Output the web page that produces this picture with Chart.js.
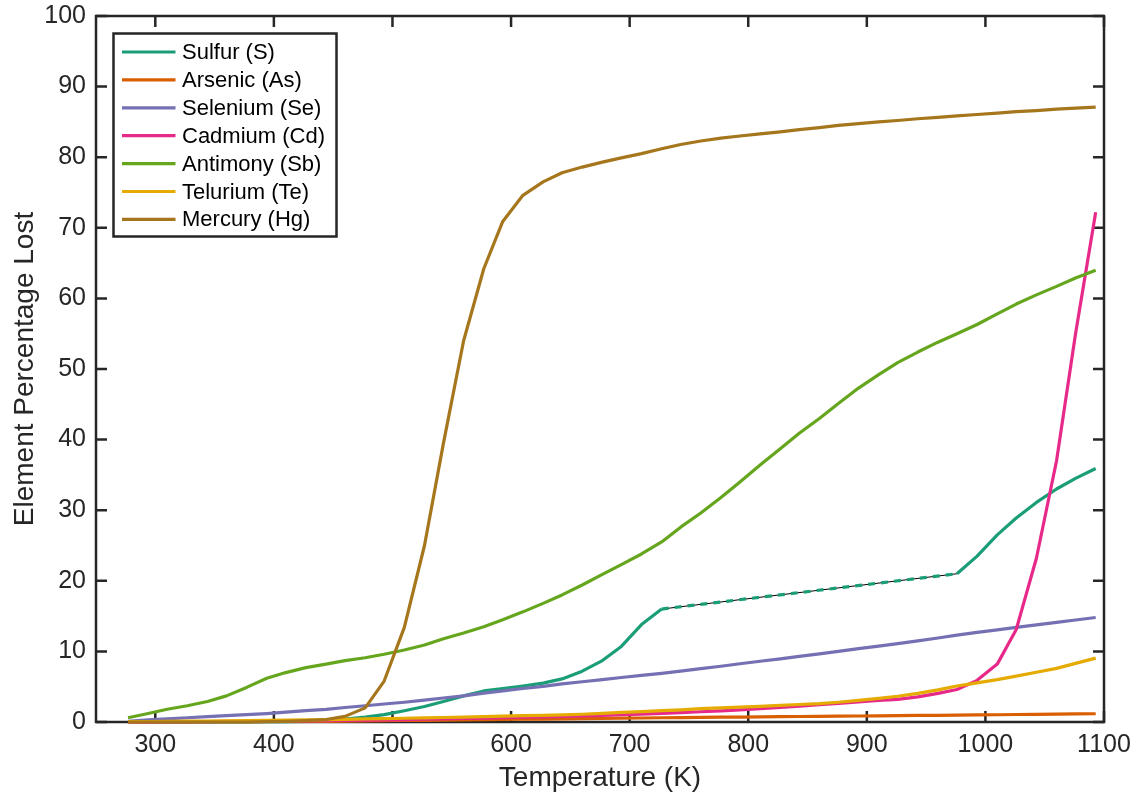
<!DOCTYPE html>
<html>
<head>
<meta charset="utf-8">
<script src="https://cdn.jsdelivr.net/npm/chart.js@4.4.1/dist/chart.umd.min.js"></script>
<style>
  body { margin: 0; background: #fff; }
  canvas { display: block; }
</style>
</head>
<body>
<canvas id="lossChart" width="1136" height="797"></canvas>
<script>
// temperature samples (K)
const temperature = [277, 294, 310, 327, 344, 360, 377, 394, 410, 427,
  444, 460, 477, 493, 510, 527, 543, 560, 577, 593,
  610, 627, 643, 660, 677, 693, 710, 727, 743, 760,
  777, 793, 810, 827, 843, 860, 876, 893, 910, 926,
  943, 960, 976, 993, 1010, 1026, 1043, 1060, 1076, 1093];

// element percentage lost
const sulfur = [0, 0, 0, 0, 0, 0, 0.02, 0.04, 0.06, 0.1,
  0.2, 0.4, 0.7, 1.05, 1.6, 2.2, 2.9, 3.7, 4.4, 4.75,
  5.1, 5.5, 6.1, 7.2, 8.7, 10.7, 13.8, 16.0, null, null,
  null, null, null, null, null, null, null, null, null, null,
  null, null, 21.0, 23.5, 26.5, 28.9, 31.1, 33.0, 34.5, 35.9];
const arsenic = [0, 0.01, 0.02, 0.03, 0.04, 0.05, 0.06, 0.07, 0.08, 0.09,
  0.1, 0.12, 0.15, 0.18, 0.21, 0.24, 0.27, 0.3, 0.33, 0.36,
  0.39, 0.42, 0.45, 0.48, 0.51, 0.54, 0.57, 0.6, 0.62, 0.65,
  0.68, 0.7, 0.73, 0.75, 0.78, 0.8, 0.83, 0.85, 0.88, 0.9,
  0.93, 0.95, 0.98, 1.0, 1.03, 1.06, 1.09, 1.11, 1.14, 1.17];
const selenium = [0.1, 0.3, 0.45, 0.6, 0.75, 0.9, 1.05, 1.2, 1.4, 1.6,
  1.8, 2.05, 2.3, 2.55, 2.8, 3.1, 3.4, 3.7, 4.1, 4.4,
  4.75, 5.05, 5.4, 5.7, 6.0, 6.3, 6.6, 6.9, 7.2, 7.55,
  7.9, 8.25, 8.6, 8.95, 9.3, 9.65, 10.0, 10.4, 10.75, 11.1,
  11.5, 11.9, 12.3, 12.7, 13.05, 13.4, 13.75, 14.1, 14.45, 14.8];
const cadmium = [0.02, 0.03, 0.04, 0.05, 0.06, 0.08, 0.1, 0.12, 0.14, 0.17,
  0.2, 0.23, 0.27, 0.31, 0.35, 0.4, 0.45, 0.5, 0.56, 0.62,
  0.68, 0.74, 0.8, 0.87, 0.95, 1.03, 1.12, 1.22, 1.33, 1.45,
  1.58, 1.72, 1.88, 2.05, 2.25, 2.45, 2.65, 2.85, 3.05, 3.2,
  3.55, 4.05, 4.6, 5.9, 8.2, 13.1, 23.2, 37.0, 55.0, 72.2];
const antimony = [0.6, 1.2, 1.8, 2.3, 2.9, 3.7, 4.9, 6.2, 7.0, 7.7,
  8.2, 8.7, 9.1, 9.6, 10.2, 10.9, 11.8, 12.6, 13.5, 14.5,
  15.6, 16.8, 18.0, 19.4, 20.9, 22.3, 23.8, 25.5, 27.6, 29.6,
  31.8, 34.0, 36.4, 38.7, 40.9, 43.0, 45.1, 47.3, 49.2, 50.9,
  52.4, 53.8, 55.0, 56.3, 57.8, 59.2, 60.5, 61.7, 62.9, 64.0];
const tellurium = [0.05, 0.07, 0.09, 0.11, 0.13, 0.16, 0.19, 0.22, 0.26, 0.3,
  0.34, 0.38, 0.43, 0.48, 0.53, 0.58, 0.64, 0.7, 0.76, 0.82,
  0.89, 0.95, 1.0, 1.1, 1.22, 1.35, 1.47, 1.6, 1.73, 1.9,
  2.0, 2.1, 2.2, 2.35, 2.48, 2.6, 2.8, 3.05, 3.35, 3.65,
  4.05, 4.55, 5.1, 5.55, 6.0, 6.5, 7.05, 7.6, 8.3, 9.05];
const mercury = [0, 0, 0, 0, 0, 0, 0, 0.05, 0.1, 0.2,
  0.35, 0.8, 2.0, 5.8, 13.4, 25.0, 39.5, 54.0, 64.2, 70.9,
  74.6, 76.5, 77.8, 78.6, 79.3, 79.9, 80.5, 81.2, 81.8, 82.3,
  82.7, 83.0, 83.3, 83.6, 83.9, 84.2, 84.5, 84.75, 85.0, 85.2,
  85.45, 85.65, 85.85, 86.05, 86.25, 86.45, 86.6, 86.8, 86.95, 87.1];

const seriesNames = ["Sulfur (S)", "Arsenic (As)", "Selenium (Se)", "Cadmium (Cd)",
  "Antimony (Sb)", "Telurium (Te)", "Mercury (Hg)"];
const seriesValues = [sulfur, arsenic, selenium, cadmium, antimony, tellurium, mercury];
const seriesColors = ["#1b9e77", "#d95f02", "#7570b3", "#e7298a", "#66a61e", "#e6ab02", "#a6761d"];

const xTicks = [300, 400, 500, 600, 700, 800, 900, 1000, 1100];
const yTicks = [0, 10, 20, 30, 40, 50, 60, 70, 80, 90, 100];

const axisColor = "#262626";
const fontFamily = "'Liberation Sans', Arial, Helvetica, sans-serif";
const lineWidth = 3.2;

function toPoints(values){
    return values.map((v, i) => ({x: temperature[i], y: v}));
}

// thin black line under the dashed part of sulfur (ends of the gap only)
const sulfurGap = sulfur.map((v, i) =>
    (v !== null && (sulfur[i-1] === null || sulfur[i+1] === null)) ? v : null);

let datasets = [{
    label: "gap",
    data: toPoints(sulfurGap),
    borderColor: "#000",
    borderWidth: 1,
    spanGaps: true,
    order: 10
}];
seriesNames.forEach((name, k) => {
    datasets.push({
        label: name,
        data: toPoints(seriesValues[k]),
        borderColor: seriesColors[k],
        borderWidth: lineWidth,
        spanGaps: true,
        order: 9 - k,
        // the segment that jumps over missing values is dashed
        segment: k === 0 ? {
            borderDash: ctx => (sulfur[ctx.p0DataIndex] === null ? [7, 6] : undefined)
        } : undefined
    });
});

// box + inward ticks like the original figure
const frame = {
    id: "frame",
    beforeDatasetsDraw(chart){
        const {ctx, chartArea: a, scales: {x, y}} = chart;
        const len = 11;
        ctx.save();
        ctx.strokeStyle = axisColor;
        ctx.lineWidth = 2.5;
        ctx.beginPath();
        xTicks.forEach(t => {
            const px = x.getPixelForValue(t);
            ctx.moveTo(px, a.bottom); ctx.lineTo(px, a.bottom - len);
            ctx.moveTo(px, a.top); ctx.lineTo(px, a.top + len);
        });
        yTicks.forEach(t => {
            const py = y.getPixelForValue(t);
            ctx.moveTo(a.left, py); ctx.lineTo(a.left + len, py);
            ctx.moveTo(a.right, py); ctx.lineTo(a.right - len, py);
        });
        ctx.stroke();
        ctx.strokeRect(a.left, a.top, a.right - a.left, a.bottom - a.top);
        ctx.restore();
    }
};

// legend inside the axes, top left
const boxLegend = {
    id: "boxLegend",
    afterDraw(chart){
        const {ctx, chartArea: a} = chart;
        const left = a.left + 17.5, top = a.top + 17.5;
        const w = 223, h = 203, row = 27.9;
        ctx.save();
        ctx.fillStyle = "#fff";
        ctx.fillRect(left, top, w, h);
        ctx.strokeStyle = axisColor;
        ctx.lineWidth = 2.5;
        ctx.strokeRect(left, top, w, h);
        ctx.font = "22px " + fontFamily;
        ctx.textBaseline = "middle";
        ctx.fillStyle = "#000";
        seriesNames.forEach((name, k) => {
            const yy = top + 18.5 + k * row;
            ctx.strokeStyle = seriesColors[k];
            ctx.lineWidth = lineWidth;
            ctx.beginPath();
            ctx.moveTo(left + 8.5, yy);
            ctx.lineTo(left + 62, yy);
            ctx.stroke();
            ctx.fillText(name, left + 68.5, yy + 1);
        });
        ctx.restore();
    }
};

new Chart("lossChart", {
    type: "line",
    data: {datasets: datasets},
    options: {
        responsive: false,
        animation: false,
        events: [],
        layout: {padding: {top: 16, right: 32, left: 0, bottom: 0}},
        elements: {
            point: {radius: 0},
            line: {tension: 0, borderCapStyle: "butt", borderJoinStyle: "round"}
        },
        datasets: {line: {clip: false}},
        plugins: {legend: {display: false}, tooltip: {enabled: false}},
        scales: {
            x: {
                type: "linear",
                min: 250,
                max: 1100,
                afterBuildTicks: s => { s.ticks = xTicks.map(v => ({value: v})); },
                afterFit: s => { s.height = 75; s.paddingLeft = 0; s.paddingRight = 0; },
                grid: {display: false, drawTicks: false},
                border: {display: false},
                ticks: {
                    padding: 8, color: axisColor, maxRotation: 0,
                    font: {family: fontFamily, size: 25},
                    callback: v => String(v)
                },
                title: {
                    display: true,
                    text: "Temperature (K)",
                    color: axisColor,
                    font: {family: fontFamily, size: 28},
                    padding: {top: 0, bottom: 2}
                }
            },
            y: {
                min: 0,
                max: 100,
                afterBuildTicks: s => { s.ticks = yTicks.map(v => ({value: v})); },
                afterFit: s => { s.width = 96; s.paddingTop = 0; s.paddingBottom = 0; },
                grid: {display: false, drawTicks: false},
                border: {display: false},
                ticks: {
                    padding: 10, color: axisColor,
                    font: {family: fontFamily, size: 25},
                    callback: v => String(v)
                },
                title: {
                    display: true,
                    text: "Element Percentage Lost",
                    color: axisColor,
                    font: {family: fontFamily, size: 28},
                    padding: {top: 8, bottom: 0}
                }
            }
        }
    },
    plugins: [frame, boxLegend]
});
</script>
</body>
</html>
